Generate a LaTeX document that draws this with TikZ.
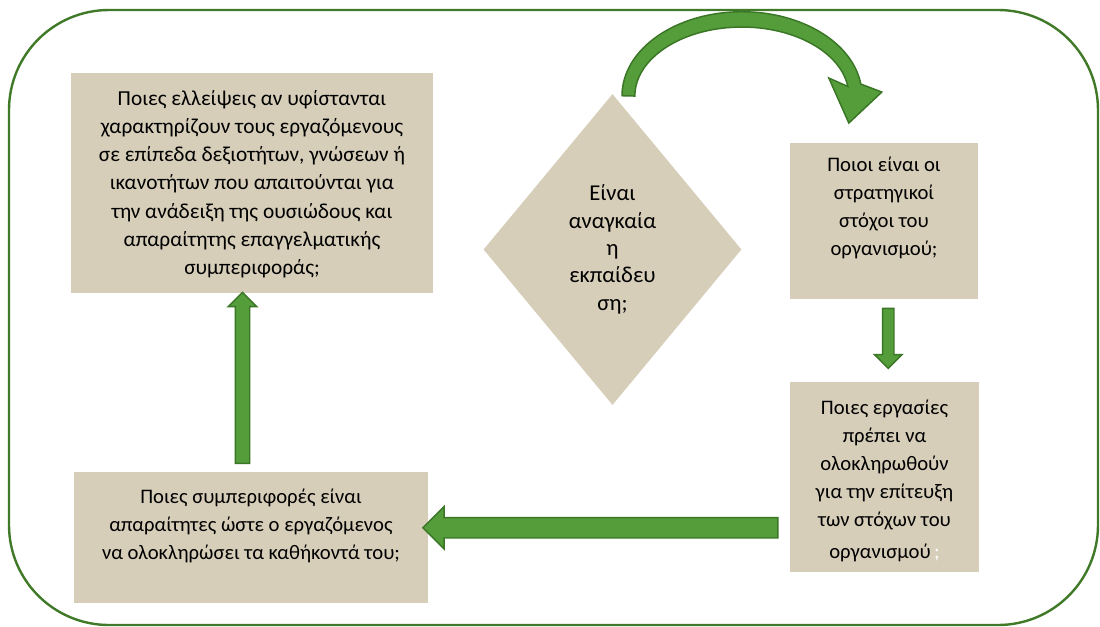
\documentclass[tikz,border=0pt]{standalone}
\usepackage{fontspec}
\setmainfont{Carlito}
\usetikzlibrary{calc,shapes.geometric,shapes.arrows}
\definecolor{boxtan}{RGB}{214,206,185}
\definecolor{arrowgreen}{RGB}{84,157,58}
\definecolor{arrowline}{RGB}{58,118,38}
\definecolor{framegreen}{RGB}{64,122,40}

\begin{document}
\begin{tikzpicture}[x=0.75pt, y=-0.75pt,
        question/.style={rectangle, fill=boxtan, inner sep=0pt},
        decision/.style={diamond, fill=boxtan, inner sep=0pt, align=center,
        font=\fontsize{17pt}{20.5pt}\selectfont},
        qtext/.style={anchor=north, align=center, inner sep=0pt,
        font=\fontsize{15.5pt}{21pt}\selectfont},
        bigarrow/.style={single arrow, fill=arrowgreen, draw=arrowline, line width=1.1pt,
        single arrow tip angle=90, single arrow head indent=0pt, inner xsep=0pt}]
    \useasboundingbox (0,0) rectangle (1100,626);
    \draw[framegreen, line width=1.8pt, rounded corners=75pt] (9,10) rectangle (1098,625);

    % boxes
    \node (need) [question, minimum width=271.5pt, minimum height=165pt] at (252,183) {};
    \node (goals) [question, minimum width=141pt, minimum height=117pt] at (884,221) {};
    \node (tasks) [question, minimum width=141.75pt, minimum height=142.5pt] at (884.5,477) {};
    \node (behav) [question, minimum width=265.5pt, minimum height=98.25pt] at (251,537.5) {};
    \node (dec) [decision, minimum width=193.5pt, minimum height=233.25pt] at (612.5,249.5)
        {Είναι\\αναγκαία\\η\\εκπαίδευ\\ση;};

    % questions
    \node (needq) [qtext, font=\fontsize{16pt}{21.2pt}\selectfont] at ($(need.north)+(0,17)$)
        {Ποιες ελλείψεις αν υφίστανται\\χαρακτηρίζουν τους εργαζόμενους\\σε επίπεδα δεξιοτήτων, γνώσεων ή\\ικανοτήτων που απαιτούνται για\\την ανάδειξη της ουσιώδους και\\απαραίτητης επαγγελματικής\\συμπεριφοράς;};
    \node (goalsq) [qtext] at ($(goals.north)+(0,14)$)
        {Ποιοι είναι οι\\στρατηγικοί\\στόχοι του\\οργανισμού;};
    \node (tasksq) [qtext] at ($(tasks.north)+(0,18)$)
        {Ποιες εργασίες\\πρέπει να\\ολοκληρωθούν\\για την επίτευξη\\των στόχων του\\[3pt]οργανισμού\,{\color{white};}};
    \node (behavq) [qtext] at ($(behav.north)+(0,17)$)
        {Ποιες συμπεριφορές είναι\\απαραίτητες ώστε ο εργαζόμενος\\να ολοκληρώσει τα καθήκοντά του;};

    % arrows
    \node (a1) [bigarrow, rotate=-90, minimum height=45pt, minimum width=19.5pt,
        inner ysep=3.75pt, single arrow head extend=6pt]
        at ($(goals.south)!0.5!(tasks.north)+(4,-5)$) {};
    \node (a2) [bigarrow, rotate=180, minimum height=266.25pt, minimum width=30.75pt,
        inner ysep=7.125pt, single arrow head extend=8.25pt]
        at ($(tasks.west)!0.5!(behav.east)+(-3.5,20.5)$) {};
    \node (a3) [bigarrow, rotate=90, minimum height=128.25pt, minimum width=20.25pt,
        inner ysep=4.875pt, single arrow head extend=5.25pt]
        at ($(behav.north)!0.5!(need.south)+(-9,-1)$) {};
    \draw[fill=arrowgreen, draw=arrowline, line width=1.1pt]
        ($(dec.north)+(9.5,2)$) arc[start angle=180, end angle=352, x radius=120, y radius=84]
        -- ++(21,8) -- ++(-33,31) -- ++(-20,-45) -- ++(19,8.4)
        arc[start angle=352, end angle=180, x radius=107, y radius=69] -- cycle;
\end{tikzpicture}
\end{document}
